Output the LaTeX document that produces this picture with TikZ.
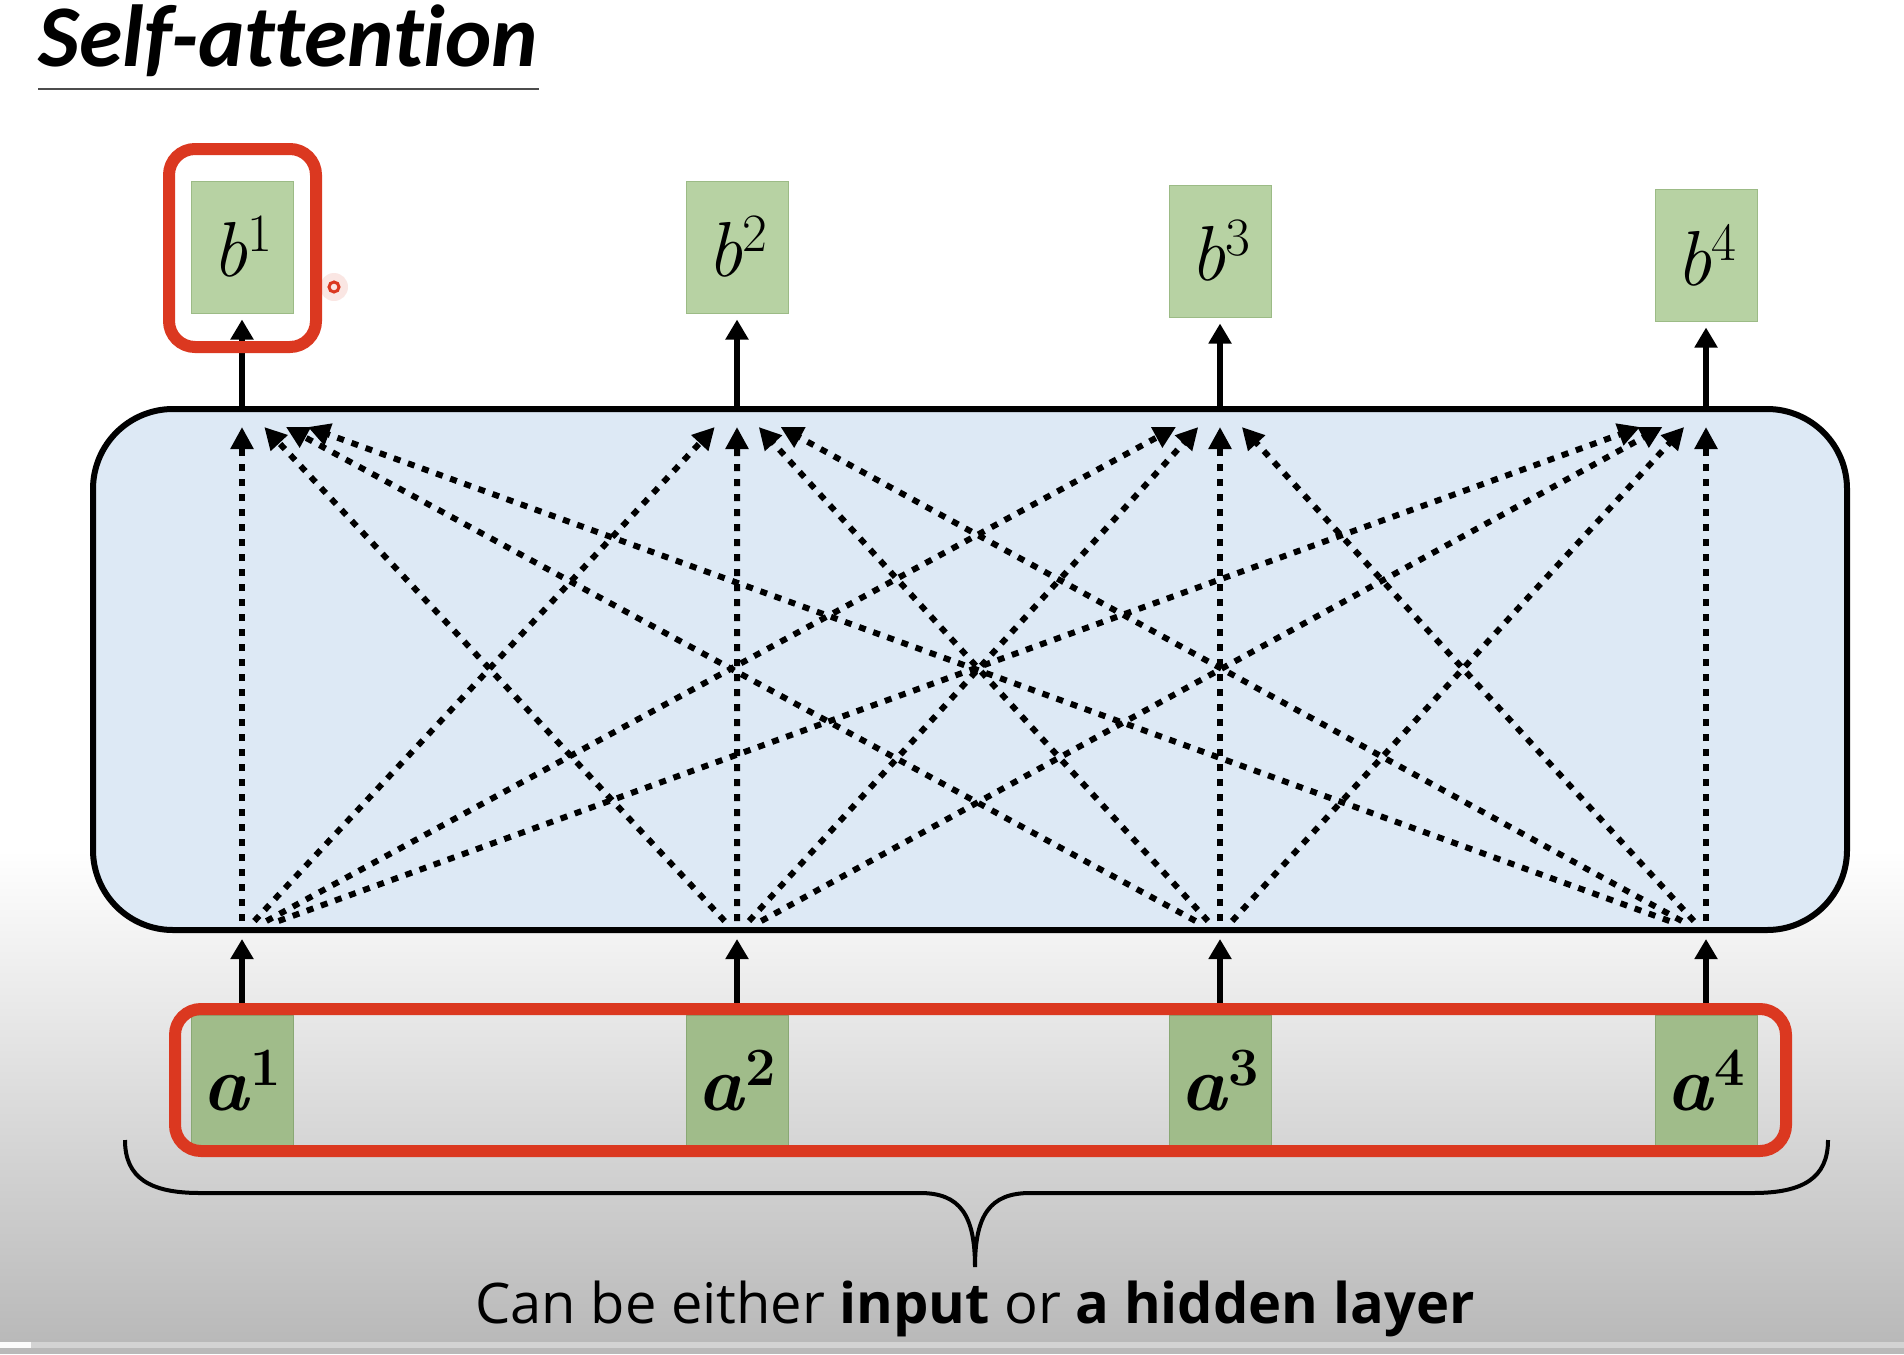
\documentclass[tikz,border=0pt]{standalone}
\usepackage{fontspec}
\newfontfamily\titlefont[Ligatures=NoCommon]{Carlito}
\newfontfamily\capfont{Open Sans}
\usetikzlibrary{arrows.meta,calc}
\definecolor{boxgreen}{HTML}{B7D2A3}
\definecolor{boxline}{HTML}{9CBB86}
\definecolor{ingreen}{HTML}{A0BC8A}
\definecolor{inline}{HTML}{89A874}
\definecolor{attnblue}{HTML}{DDE9F5}
\definecolor{markred}{HTML}{DB3820}
\definecolor{bggray}{HTML}{B9B9B9}
\definecolor{stripgray}{HTML}{D3D3D3}
\newcommand\vecname[2]{\textit{#1}\raisebox{0.32em}{\fontsize{27}{27}\selectfont #2}}
\tikzset{
  outvec/.style={draw=boxline,fill=boxgreen,line width=0.5pt,minimum width=51pt,minimum height=66pt,inner sep=0pt,font=\fontsize{39}{40}\selectfont},
  invec/.style={outvec,draw=inline,fill=ingreen,font=\fontsize{39}{40}\selectfont\bfseries},
  attnbox/.style={draw,fill=attnblue,line width=3pt,rounded corners=40pt,inner sep=0pt},
  flowarrow/.style={line width=3pt,-{Triangle[length=10pt,width=11pt]},shorten >=3pt},
  attnarrow/.style={line width=3pt,dash pattern=on 3.5pt off 4pt,-{Triangle[length=11pt,width=11pt]}},
  redmark/.style={draw=markred,line width=6pt,rounded corners=13pt}
}
\begin{document}
\begin{tikzpicture}[x=0.5pt,y=-0.5pt]
	\useasboundingbox (0,0) rectangle (1904,1354);
	% background
	\fill[white] (0,0) rectangle (1904,1354);
	\shade[top color=white,bottom color=bggray] (0,850) rectangle (1904,1342);
	\fill[stripgray] (0,1342) rectangle (1904,1348);
	\fill[white!90!stripgray] (0,1342) rectangle (31,1348);
	\fill[bggray] (0,1348) rectangle (1904,1354);
	% title
	\node[anchor=base west,inner sep=0pt,font=\titlefont\bfseries\itshape\fontsize{44}{48}\selectfont] (title) at (38,67) {Self-attention};
	\draw[line width=1pt,black!70] ([yshift=-11pt]title.base west) -- ([yshift=-11pt]title.base east);
	% layer
	\node[attnbox,minimum width=877pt,minimum height=260.5pt] (attn) at (970,669.5) {};
	\foreach \x/\y [count=\i] in {242/247,737/247,1220/251,1706/255}
		\node[outvec] (b\i) at (\x,\y) {\vecname{b}{\i}};
	\foreach \x [count=\i] in {242,737,1220,1706}{
		\node[invec] (a\i) at (\x,1081) {\vecname{a}{\i}};
		\coordinate (s\i) at (\x,921);
		\coordinate (t\i) at (\x,427);
	}
	\foreach \i in {1,...,4}{
		\draw[flowarrow] (b\i.south |- attn.north) -- (b\i.south);
		\draw[flowarrow] (a\i.north) -- (a\i.north |- attn.south);
		\foreach \j in {1,...,4}
			\draw[attnarrow] ($(s\i)!0.025!(s\j)$) -- ($(t\j)!0.045!(t\i)$);
	}
	% highlights
	\draw[redmark] (169,149) rectangle (316,347);
	\draw[redmark] (175,1009) rectangle (1786,1151);
	\fill[markred,opacity=0.12] (334,287) circle (14);
	\draw[markred,line width=1.5pt] (334,287) circle (5);
	% brace
	\draw[line width=2pt] (125,1140) .. controls (125,1178) and (150,1193) .. (200,1193) -- (920,1193)
		.. controls (960,1193) and (975,1215) .. (975,1267)
		.. controls (975,1215) and (990,1193) .. (1030,1193) -- (1753,1193)
		.. controls (1803,1193) and (1828,1178) .. (1828,1140);
	\node[anchor=base,inner sep=0pt,font=\capfont\fontsize{28}{32}\selectfont] (caption) at (975,1323) {Can be either \textbf{input} or \textbf{a hidden layer}};
\end{tikzpicture}
\end{document}
